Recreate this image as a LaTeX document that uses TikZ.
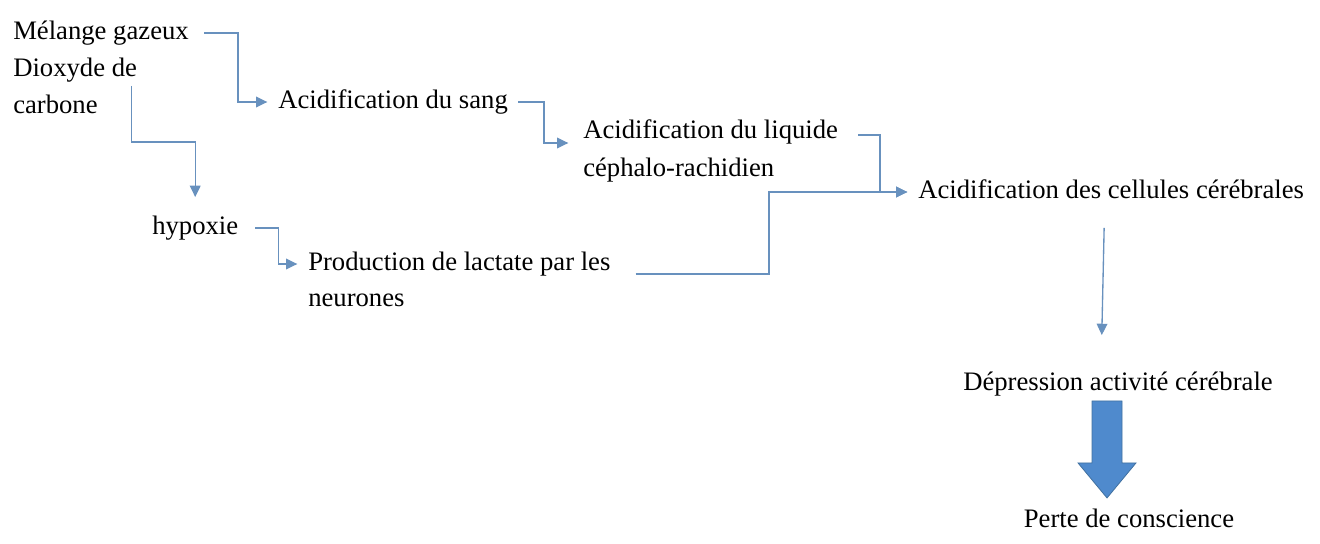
\documentclass[tikz,border=0pt]{standalone}
\usepackage{fontspec}
\setmainfont{Liberation Serif}
\usetikzlibrary{arrows.meta,calc}
\definecolor{linkblue}{RGB}{104,145,190}
\definecolor{bigblue}{RGB}{79,138,205}
\definecolor{bigedge}{RGB}{65,113,160}

\begin{document}
\begin{tikzpicture}[x=0.75pt,y=-0.75pt,
txt/.style={anchor=base west,inner sep=0pt,font=\fontsize{20}{24}\selectfont,text height=14pt,text depth=5pt},
link/.style={draw=linkblue,line width=1pt,-{Triangle[length=8.5pt,width=8pt]},shorten >=8pt}]
\useasboundingbox (0,0) rectangle (1320,543);
\node[txt] (gaz) at (13,39) {Mélange gazeux};
\node[txt] (co2) at (13,76) {Dioxyde de};
\node[txt] (carb) at (13,113) {carbone};
\node[txt] (sang) at (278,108) {Acidification du sang};
\node[txt] (liq) at (583,138) {Acidification du liquide};
\node[txt] (liqb) at (583,176) {céphalo-rachidien};
\node[txt] (cel) at (918,198) {Acidification des cellules cérébrales};
\node[txt] (hyp) at (152,234) {hypoxie};
\node[txt] (lac) at (308,270) {Production de lactate par les};
\node[txt] (lacb) at (308,306) {neurones};
\node[txt,anchor=base] (dep) at (1118,390) {Dépression activité cérébrale};
\node[txt,anchor=base] (perte) at (1129,527) {Perte de conscience};
\draw[link] ($(gaz.east)+(15,0)$) -- ++(34,0) |- (sang.west);
\draw[link,shorten >=13.5pt] ($(co2.south east)+(-6,3)$) -- ++(0,56) -| (hyp.north);
\draw[link,shorten >=11pt] ($(sang.east)+(10,0)$) -- ++(26,0) |- ($(liq.west)+(0,11)$);
\draw[link] ($(liq.east)+(20,3)$) -| ($(cel.west)+(-38,0)$) -- (cel.west);
\draw[link] ($(hyp.east)+(17,0)$) -- ++(23,0) |- (lac.west);
\draw[link] ($(lac.east)+(25,10)$) -| ($(cel.west)+(-149,0)$) -- (cel.west);
\draw[link,shorten >=27pt] ($(cel.south)+(-7,23)$) -- ($(dep.north)+(-17,0)$);
\filldraw[fill=bigblue,draw=bigedge,line width=0.6pt] ($(dep.south)+(-26,4)$) -- ++(30,0) -- ++(0,62) -- ++(14,0) -- ++(-29,35) -- ++(-29,-35) -- ++(14,0) -- cycle;
\end{tikzpicture}
\end{document}
